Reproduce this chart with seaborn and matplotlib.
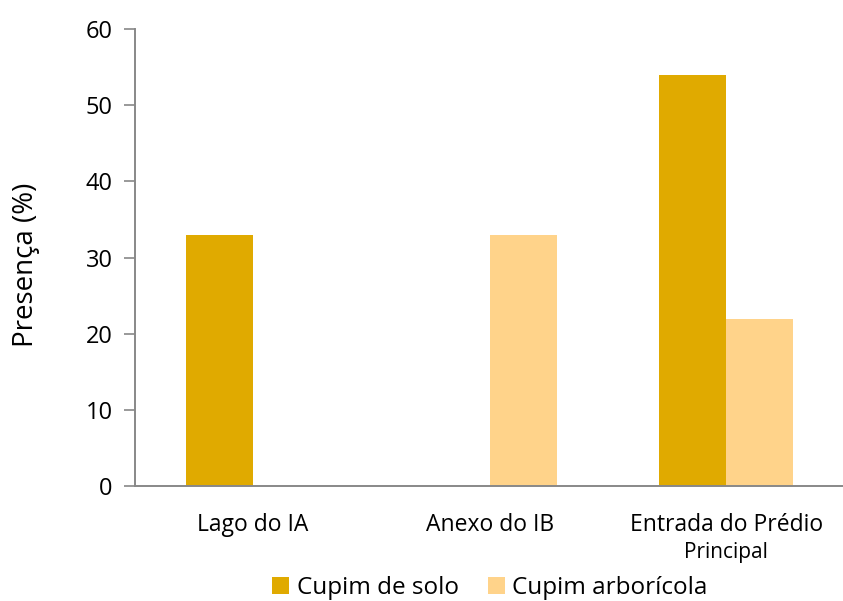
import matplotlib
matplotlib.use("Agg")
import matplotlib.pyplot as plt
import seaborn as sns
import pandas as pd

# Survey data: termite presence (%) by site and termite type
sites = ["Lago do IA", "Anexo do IB", "Entrada do Prédio"]
termite_types = ["Cupim de solo", "Cupim arborícola"]
cupim_solo = [33, 0, 54]
cupim_arboricola = [0, 33, 22]
y_ticks = [0, 10, 20, 30, 40, 50, 60]

df = pd.DataFrame({
    "site": sites * 2,
    "tipo": [termite_types[0]] * 3 + [termite_types[1]] * 3,
    "presenca": cupim_solo + cupim_arboricola,
})

sns.set_theme(style="white")
plt.rcParams["font.family"] = ["Open Sans", "DejaVu Sans"]
plt.rcParams["text.color"] = "black"
plt.rcParams["axes.labelcolor"] = "black"
plt.rcParams["xtick.color"] = "black"
plt.rcParams["ytick.color"] = "black"

fig = plt.figure(figsize=(8.43, 6.01), dpi=100)
ax = fig.add_axes([0.160, 0.191, 0.842, 0.761])

palette = {termite_types[0]: "#E0AA00", termite_types[1]: "#FFD38A"}
sns.barplot(data=df, x="site", y="presenca", hue="tipo", order=sites,
            hue_order=termite_types, palette=palette, width=0.566,
            gap=0, saturation=1, edgecolor="none", linewidth=0, ax=ax)

ax.set_xlim(-0.5, 2.5)
ax.set_ylim(0, 60)
ax.set_yticks(y_ticks)
ax.set_yticklabels([str(v) for v in y_ticks], fontsize=17)
ax.set_ylabel("Presença (%)", fontsize=20)
ax.yaxis.set_label_coords(-0.133, 0.485)
ax.set_xlabel("")

# Category labels centred under groups, tick marks at group boundaries
ax.set_xticks([0, 1, 2])
ax.set_xticklabels(sites, fontsize=16.5)
ax.set_xticks([-0.5, 0.5, 1.5, 2.5], minor=True)
ax.tick_params(axis="x", which="major", length=0, pad=19)
ax.tick_params(axis="x", which="minor", length=8, width=1.2, color="#888888")
ax.tick_params(axis="y", which="major", length=8, width=1.2, color="#888888",
               labelcolor="black", left=True, pad=8)
ax.text(2, -0.122, "Principal", transform=ax.get_xaxis_transform(),
        ha="center", va="top", fontsize=15)

for side in ["top", "right"]:
    ax.spines[side].set_visible(False)
for side in ["left", "bottom"]:
    ax.spines[side].set_color("#888888")
    ax.spines[side].set_linewidth(1.4)

ax.legend(loc="lower center", bbox_to_anchor=(0.5, -0.27), ncol=2,
          frameon=False, fontsize=17.5, handlelength=0.7, handleheight=0.7,
          handletextpad=0.3, columnspacing=1.2, borderaxespad=0)

fig.savefig("out.png", dpi=100)
